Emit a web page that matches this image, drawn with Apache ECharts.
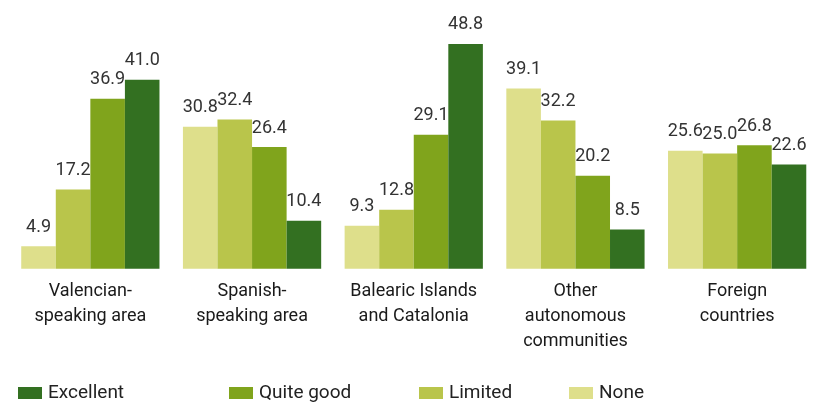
<!DOCTYPE html>
<html>
<head>
<meta charset="utf-8">
<script src="https://cdn.jsdelivr.net/npm/echarts@6/dist/echarts.min.js"></script>
<style>
html,body{margin:0;padding:0;background:#fff;}
#chart{width:818px;height:404px;}
</style>
</head>
<body>
<div id="chart"></div>
<script>
const categories = ['Valencian-\nspeaking area', 'Spanish-\nspeaking area', 'Balearic Islands\nand Catalonia', 'Other\nautonomous\ncommunities', 'Foreign\ncountries'];
const seriesNames = ['None', 'Limited', 'Quite good', 'Excellent'];
const noneValues = [4.9, 30.8, 9.3, 39.1, 25.6];
const limitedValues = [17.2, 32.4, 12.8, 32.2, 25.0];
const quiteGoodValues = [36.9, 26.4, 29.1, 20.2, 26.8];
const excellentValues = [41.0, 10.4, 48.8, 8.5, 22.6];

const colors = {'None':'#dedf8b','Limited':'#b9c54b','Quite good':'#80a41c','Excellent':'#337021'};
const valuesByName = {'None':noneValues,'Limited':limitedValues,'Quite good':quiteGoodValues,'Excellent':excellentValues};
const FONT = 'Roboto';

const chart = echarts.init(document.getElementById('chart'), null, {renderer:'canvas'});

const legendOrder = ['Excellent','Quite good','Limited','None'];
const legendLeft = [18, 229, 419, 569];

const option = {
  animation: false,
  grid: {left: 9.5, right: 0, top: 38.4, height: 230.3, containLabel: false},
  legend: legendOrder.map((n, i) => ({
    data: [n], left: legendLeft[i], top: 383, itemWidth: 24, itemHeight: 12, itemGap: 0,
    icon: 'rect', selectedMode: false, padding: 0,
    textStyle: {fontFamily: FONT, fontSize: 19, color: '#222', padding: [0,0,0,1], lineHeight: 20}
  })),
  xAxis: {
    type: 'category', data: categories,
    axisLine: {show: false}, axisTick: {show: false},
    axisLabel: {fontFamily: FONT, fontSize: 18, color: '#1a1a1a', lineHeight: 25, margin: 10, interval: 0}
  },
  yAxis: {type: 'value', min: 0, max: 50, show: false, splitLine: {show: false}},
  series: seriesNames.map(n => ({
    name: n, type: 'bar', data: valuesByName[n],
    barGap: '0%', barCategoryGap: '14.5%',
    itemStyle: {color: colors[n]},
    label: {show: true, position: 'top', distance: 10, fontFamily: FONT, fontSize: 18, color: '#333',
      formatter: p => p.value.toFixed(1)}
  }))
};
chart.setOption(option);
</script>
</body>
</html>
